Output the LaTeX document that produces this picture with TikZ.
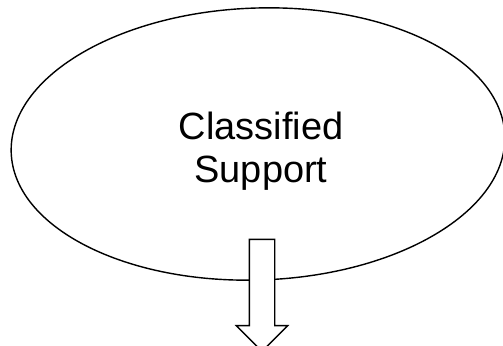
\documentclass[tikz,border=0pt]{standalone}
\usepackage{fontspec}
\setmainfont{Liberation Sans}
\usetikzlibrary{shapes.geometric, shapes.arrows, positioning}

\begin{document}
\begin{tikzpicture}[x = 0.02cm, y = 0.02cm, line width = 0.8pt,
    blob/.style = {draw, ellipse, minimum width = 9.88cm, minimum height = 5.44cm, inner sep = 0pt},
    caption/.style = {align = center, font = \fontsize{21.6}{24.4}\selectfont},
    down arrow/.style = {draw, fill = white, single arrow, shape border rotate = 270,
      inner sep = 0.24cm, single arrow head extend = 0.26cm, minimum height = 2.24cm}]
  \useasboundingbox (0,0) rectangle (503,-345);
  \node[blob, rotate = 2] (support) at (258,-144) {};
  \node[caption] (title) at (261,-151) {Classified\\Support};
  \node[down arrow] (flow) at (262,-289) {};
\end{tikzpicture}
\end{document}
